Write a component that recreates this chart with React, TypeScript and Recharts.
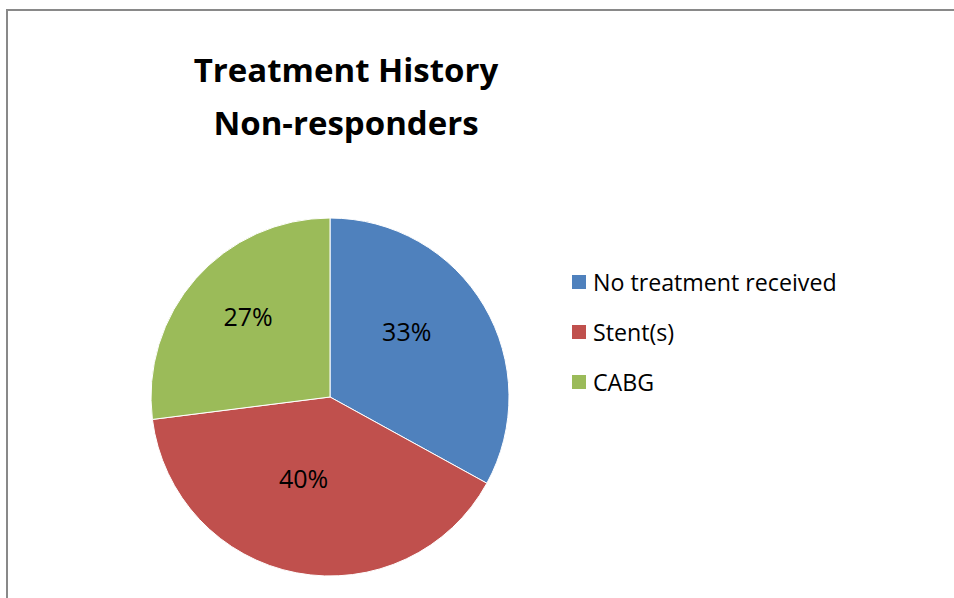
import React from "react";
import { PieChart, Pie, Cell, Legend } from "recharts";

const categories = ["No treatment received", "Stent(s)", "CABG"];
const percentages = [33, 40, 27];
const colors = ["#4F81BD", "#C0504D", "#9BBB59"];
const titleLines = ["Treatment History", "Non-responders"];

const FONT = "'Open Sans', 'Liberation Sans', sans-serif";
const RAD = Math.PI / 180;

const chartData = categories.map((name, i) => ({
  name,
  value: percentages[i],
  fill: colors[i],
}));

function renderLabel(props: any) {
  const { cx, cy, midAngle, outerRadius, value } = props;
  // Excel puts the best-fit labels a little inside the middle of each slice
  const r = outerRadius * 0.55;
  const x = cx + r * Math.cos(-midAngle * RAD) - 8;
  const y = cy + r * Math.sin(-midAngle * RAD) - 16;
  return (
    <text
      x={x}
      y={y}
      textAnchor="middle"
      dominantBaseline="central"
      fill="#000"
      style={{ fontFamily: FONT, fontSize: 25 }}
    >
      {`${value}%`}
    </text>
  );
}

function LegendBox() {
  return (
    <div style={{ fontFamily: FONT }}>
      {chartData.map((d) => (
        <div
          key={d.name}
          style={{ display: "flex", alignItems: "center", height: 50 }}
        >
          <span
            style={{
              width: 14,
              height: 14,
              background: d.fill,
              display: "inline-block",
              marginRight: 7,
            }}
          />
          <span style={{ fontSize: 23.2, color: "#000", lineHeight: "24px" }}>{d.name}</span>
        </div>
      ))}
    </div>
  );
}

export default function App() {
  return (
    <div
      style={{
        position: "absolute",
        left: 0,
        top: 0,
        width: 954,
        height: 598,
        overflow: "hidden",
        background: "#fff",
      }}
    >
      <div
        style={{
          position: "absolute",
          left: 6,
          top: 9,
          width: 1000,
          height: 700,
          border: "2px solid #898989",
        }}
      />
      <div
        style={{
          position: "absolute",
          left: 146,
          top: 43,
          width: 400,
          textAlign: "center",
          fontFamily: FONT,
          fontWeight: 700,
          fontSize: 33,
          lineHeight: "53px",
          color: "#000",
        }}
      >
        {titleLines.map((t) => (
          <div key={t}>{t}</div>
        ))}
      </div>
      <div style={{ position: "absolute", left: 0, top: 0 }}>
        <PieChart
          width={954}
          height={598}
          margin={{ top: 0, right: 0, bottom: 0, left: 0 }}
        >
          <Pie
            data={chartData}
            dataKey="value"
            nameKey="name"
            cx={330}
            cy={397}
            outerRadius={179}
            startAngle={90}
            endAngle={-270}
            stroke="#fff"
            strokeWidth={1}
            label={renderLabel}
            labelLine={false}
            isAnimationActive={false}
          >
            {chartData.map((d) => (
              <Cell key={d.name} fill={d.fill} />
            ))}
          </Pie>
          <Legend
            content={() => <LegendBox />}
            wrapperStyle={{ position: "absolute", left: 572, top: 257, width: 330 }}
          />
        </PieChart>
      </div>
    </div>
  );
}
